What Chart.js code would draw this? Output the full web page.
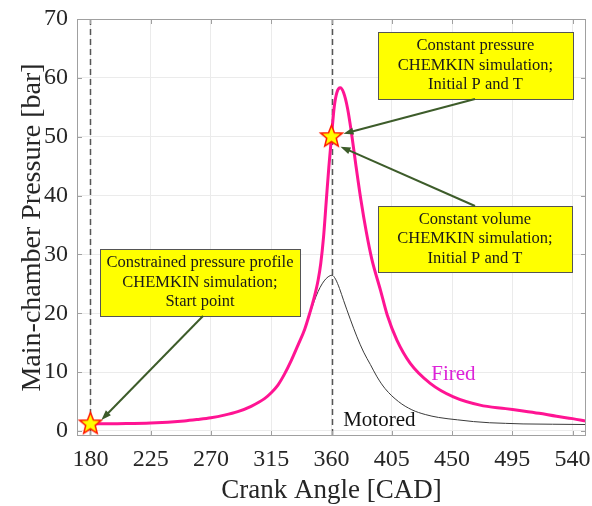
<!DOCTYPE html>
<html>
<head>
<meta charset="utf-8">
<script src="https://cdn.jsdelivr.net/npm/chart.js@4.4.1/dist/chart.umd.min.js"></script>
<style>
    html, body { margin: 0; padding: 0; background: #fff; }
    #wrap { width: 592px; height: 506px; position: relative; }
</style>
</head>
<body>
<div id="wrap"><canvas id="pressureChart"></canvas></div>
<script>
// axis ticks
const angleTicks = [180, 225, 270, 315, 360, 405, 450, 495, 540];
const pressureTicks = [0, 10, 20, 30, 40, 50, 60, 70];

// fired cycle
const firedAngle = [180, 200, 225, 250, 260, 270, 280, 290, 300, 310, 315, 320, 325, 330, 335, 340, 344, 347, 350, 352, 354, 356, 358, 360, 362, 364, 366.5, 369, 372, 375, 378, 382, 386, 390, 396.6, 401.6, 408.9, 418.8, 433.7, 451, 470.9, 490, 503, 515, 528, 540, 550];
const firedPressure = [1.2, 1.25, 1.35, 1.7, 1.95, 2.25, 2.7, 3.3, 4.2, 5.5, 6.5, 7.8, 9.7, 12.0, 14.6, 17.3, 20.2, 22.6, 25.6, 28.5, 32.8, 38.8, 44.8, 50.0, 55.0, 57.5, 58.3, 57.5, 54.8, 50.5, 45.5, 39.2, 33.8, 29.3, 23.9, 19.7, 15.4, 11.5, 8.1, 5.8, 4.4, 3.8, 3.4, 3.0, 2.5, 2.1, 1.7];

// motored cycle
const motoredAngle = [180, 200, 225, 250, 260, 270, 280, 290, 300, 310, 315, 320, 325, 330, 335, 340, 344, 347, 350, 353, 356, 359, 360.5, 363, 366, 369, 374, 379, 384, 389, 394, 400, 410, 420, 430, 440, 454, 466, 478, 490, 503, 525, 550];
const motoredPressure = [1.2, 1.25, 1.35, 1.7, 1.95, 2.25, 2.7, 3.3, 4.2, 5.5, 6.5, 7.8, 9.7, 12.0, 14.6, 17.3, 20.0, 22.0, 23.7, 25.0, 25.9, 26.4, 26.45, 25.8, 24.2, 22.2, 19.0, 16.0, 13.4, 11.3, 9.2, 7.2, 5.0, 3.6, 2.8, 2.3, 1.9, 1.6, 1.4, 1.3, 1.2, 1.15, 1.1];

// CHEMKIN start points
const startAngle = [180, 360];
const startPressure = [1.2, 50];

// BDC / TDC reference lines
const markerAngle = [180, 360];

const serif = "'Liberation Serif', 'Times New Roman', serif";
const textColor = '#262626';

// annotation boxes (pixel layout), arrows point at a start point
const notes = [
    { lines: ['Constant pressure', 'CHEMKIN simulation;', 'Initial P and T'], left: 378, top: 32, width: 195, height: 67, tail: [475, 99], point: 1, tip: [12, -3] },
    { lines: ['Constant volume', 'CHEMKIN simulation;', 'Initial P and T'], left: 378, top: 206, width: 194, height: 66, tail: [475, 206], point: 1, tip: [9, 10] },
    { lines: ['Constrained pressure profile', 'CHEMKIN simulation;', 'Start point'], left: 100, top: 249, width: 200, height: 67, tail: [203, 316], point: 0, tip: [11, -4] }
];

// curve labels (data coordinates)
const curveLabels = [
    { text: 'Fired', x: 451, y: 9.6, color: '#dd22d8' },
    { text: 'Motored', x: 395.7, y: 1.85, color: '#111111' }
];

const toPoints = (xs, ys) => xs.map((x, i) => ({ x: x, y: ys[i] }));

// yellow star with red outline
const makeStar = function(outer, inner) {
    const size = Math.ceil(outer * 2 + 4);
    const c = document.createElement('canvas');
    c.width = size;
    c.height = size;
    const g = c.getContext('2d');
    g.beginPath();
    for (let i = 0; i < 10; i++) {
        const r = i % 2 === 0 ? outer : inner;
        const a = -Math.PI / 2 + i * Math.PI / 5;
        g.lineTo(size / 2 + r * Math.cos(a), size / 2 + r * Math.sin(a));
    }
    g.closePath();
    g.fillStyle = '#ffff00';
    g.fill();
    g.lineWidth = 1.5;
    g.strokeStyle = '#ff1a00';
    g.stroke();
    return c;
};

const drawArrow = function(ctx, x0, y0, x1, y1) {
    const ang = Math.atan2(y1 - y0, x1 - x0);
    const len = 10, half = 3.5;
    ctx.beginPath();
    ctx.moveTo(x0, y0);
    ctx.lineTo(x1 - Math.cos(ang) * len * 0.8, y1 - Math.sin(ang) * len * 0.8);
    ctx.stroke();
    ctx.beginPath();
    ctx.moveTo(x1, y1);
    ctx.lineTo(x1 - Math.cos(ang) * len + Math.sin(ang) * half, y1 - Math.sin(ang) * len - Math.cos(ang) * half);
    ctx.lineTo(x1 - Math.cos(ang) * len - Math.sin(ang) * half, y1 - Math.sin(ang) * len + Math.cos(ang) * half);
    ctx.closePath();
    ctx.fill();
};

// dashed vertical lines at 180 / 360
const markerLines = {
    id: 'markerLines',
    beforeDatasetsDraw(chart) {
        const { ctx, chartArea, scales } = chart;
        ctx.save();
        ctx.strokeStyle = '#555555';
        ctx.lineWidth = 1.5;
        ctx.setLineDash([6, 4]);
        markerAngle.forEach(a => {
            const x = Math.round(scales.x.getPixelForValue(a)) + 0.5;
            ctx.beginPath();
            ctx.moveTo(x, chartArea.top);
            ctx.lineTo(x, chartArea.bottom);
            ctx.stroke();
        });
        ctx.restore();
    }
};

// MATLAB style box with inward ticks, plus labels and annotations
const overlay = {
    id: 'overlay',
    afterDatasetsDraw(chart) {
        const { ctx, chartArea, scales } = chart;
        const { left, right, top, bottom } = chartArea;
        ctx.save();

        // frame
        ctx.strokeStyle = '#a0a0a0';
        ctx.lineWidth = 1;
        ctx.strokeRect(left + 0.5, top + 0.5, right - left - 1, bottom - top - 1);
        ctx.beginPath();
        angleTicks.forEach(v => {
            const x = Math.round(scales.x.getPixelForValue(v)) + 0.5;
            ctx.moveTo(x, bottom); ctx.lineTo(x, bottom - 5);
            ctx.moveTo(x, top); ctx.lineTo(x, top + 5);
        });
        pressureTicks.forEach(v => {
            const y = Math.round(scales.y.getPixelForValue(v)) + 0.5;
            ctx.moveTo(left, y); ctx.lineTo(left + 5, y);
            ctx.moveTo(right, y); ctx.lineTo(right - 5, y);
        });
        ctx.stroke();

        // curve labels
        ctx.font = '21px ' + serif;
        ctx.textAlign = 'center';
        ctx.textBaseline = 'middle';
        curveLabels.forEach(l => {
            ctx.fillStyle = l.color;
            ctx.fillText(l.text, scales.x.getPixelForValue(l.x), scales.y.getPixelForValue(l.y));
        });

        // annotation boxes and arrows
        notes.forEach(n => {
            ctx.fillStyle = '#ffff00';
            ctx.fillRect(n.left, n.top, n.width, n.height);
            ctx.strokeStyle = '#555555';
            ctx.lineWidth = 1;
            ctx.strokeRect(n.left + 0.5, n.top + 0.5, n.width, n.height);
            ctx.fillStyle = '#1a1a1a';
            ctx.font = '16.5px ' + serif;
            const cx = n.left + n.width / 2;
            const cy = n.top + n.height / 2;
            n.lines.forEach((t, i) => {
                ctx.fillText(t, cx, cy + (i - 1) * 19.5);
            });
            const px = scales.x.getPixelForValue(startAngle[n.point]) + n.tip[0];
            const py = scales.y.getPixelForValue(startPressure[n.point]) + n.tip[1];
            ctx.strokeStyle = '#3d5c2a';
            ctx.fillStyle = '#3d5c2a';
            ctx.lineWidth = 2;
            drawArrow(ctx, n.tail[0], n.tail[1], px, py);
        });
        ctx.restore();
    }
};

const ctx = document.getElementById('pressureChart').getContext('2d');
const chart = new Chart(ctx, {
    type: 'line',
    data: {
        datasets: [
            {
                label: 'Start points',
                data: toPoints(startAngle, startPressure),
                showLine: false,
                pointStyle: makeStar(11.5, 5),
                pointRadius: 12,
                borderWidth: 0
            },
            {
                label: 'Fired',
                data: toPoints(firedAngle, firedPressure),
                borderColor: '#ff1493',
                borderWidth: 3,
                pointRadius: 0,
                cubicInterpolationMode: 'monotone'
            },
            {
                label: 'Motored',
                data: toPoints(motoredAngle, motoredPressure),
                borderColor: '#3a3a3a',
                borderWidth: 1,
                pointRadius: 0,
                cubicInterpolationMode: 'monotone'
            }
        ]
    },
    options: {
        responsive: true,
        maintainAspectRatio: false,
        devicePixelRatio: 1,
        animation: false,
        layout: {
            autoPadding: false,
            padding: { top: 19, right: 6, left: 0, bottom: 0 }
        },
        plugins: {
            legend: { display: false },
            tooltip: { enabled: false }
        },
        scales: {
            x: {
                type: 'linear',
                min: 170,
                max: 550,
                afterBuildTicks: s => { s.ticks = angleTicks.map(v => ({ value: v })); },
                afterFit: s => {
                    s.height = 70;
                    s.paddingLeft = 0;
                    s.paddingRight = 0;
                },
                ticks: { font: { family: serif, size: 24 }, color: textColor, padding: 9, maxRotation: 0, autoSkip: false },
                grid: { color: '#ebebeb', drawTicks: false },
                border: { display: false },
                title: {
                    display: true,
                    text: 'Crank Angle [CAD]',
                    color: textColor,
                    font: { family: serif, size: 27, lineHeight: 1.1 },
                    padding: { top: 0, bottom: 0 }
                }
            },
            y: {
                type: 'linear',
                min: -0.85,
                max: 70,
                afterBuildTicks: s => { s.ticks = pressureTicks.map(v => ({ value: v })); },
                afterFit: s => {
                    s.width = 77;
                    s.paddingTop = 0;
                    s.paddingBottom = 0;
                },
                ticks: { font: { family: serif, size: 24 }, color: textColor, padding: 9 },
                grid: { color: '#ebebeb', drawTicks: false },
                border: { display: false },
                title: {
                    display: true,
                    text: 'Main-chamber Pressure [bar]',
                    color: textColor,
                    font: { family: serif, size: 28, lineHeight: 1.1 },
                    padding: { top: 17, bottom: 0 }
                }
            }
        }
    },
    plugins: [markerLines, overlay]
});
</script>
</body>
</html>
